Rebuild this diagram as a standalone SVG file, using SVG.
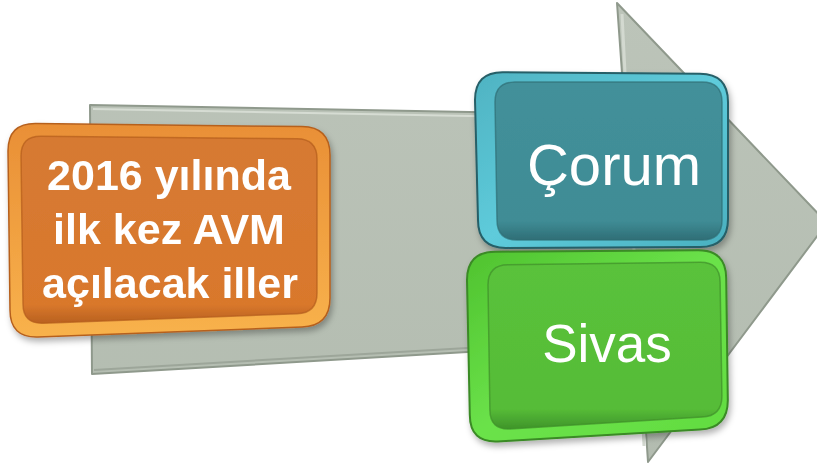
<svg xmlns="http://www.w3.org/2000/svg" width="817" height="463" viewBox="0 0 817 463">
<defs>
  <style>
    .lbl { fill: #ffffff; font-family: "Liberation Sans", Arial, sans-serif; text-anchor: middle; }
    .bold { font-weight: bold; font-size: 43px; }
    .big { font-size: 58px; }
  </style>
  <linearGradient id="arrowFill" x1="0" y1="0" x2="0" y2="1">
    <stop offset="0" stop-color="#bcc4b9"/>
    <stop offset="1" stop-color="#b3bcb0"/>
  </linearGradient>
  <linearGradient id="orRim" x1="0" y1="0" x2="0" y2="1">
    <stop offset="0" stop-color="#e98f36"/>
    <stop offset="1" stop-color="#f8b24c"/>
  </linearGradient>
  <linearGradient id="orFace" x1="0" y1="0" x2="0" y2="1">
    <stop offset="0" stop-color="#d67a33"/>
    <stop offset="0.9" stop-color="#d9782c"/>
    <stop offset="1" stop-color="#b9611f"/>
  </linearGradient>
  <linearGradient id="tlRim" x1="0" y1="0" x2="1" y2="1">
    <stop offset="0" stop-color="#4fb3c2"/>
    <stop offset="0.5" stop-color="#5ecbdb"/>
    <stop offset="1" stop-color="#4ab0bf"/>
  </linearGradient>
  <linearGradient id="tlFace" x1="0" y1="0" x2="0" y2="1">
    <stop offset="0" stop-color="#43909a"/>
    <stop offset="0.88" stop-color="#3f8c95"/>
    <stop offset="1" stop-color="#2f6e76"/>
  </linearGradient>
  <linearGradient id="grRim" x1="0" y1="0" x2="1" y2="1">
    <stop offset="0" stop-color="#4fc22f"/>
    <stop offset="0.5" stop-color="#6be24a"/>
    <stop offset="1" stop-color="#62dc40"/>
  </linearGradient>
  <linearGradient id="grFace" x1="0" y1="0" x2="0" y2="1">
    <stop offset="0" stop-color="#5ac23b"/>
    <stop offset="0.88" stop-color="#56bc37"/>
    <stop offset="1" stop-color="#3f942a"/>
  </linearGradient>
  <filter id="shadow" x="-10%" y="-10%" width="125%" height="130%">
    <feDropShadow dx="2" dy="4" stdDeviation="3" flood-color="#000000" flood-opacity="0.3"/>
  </filter>
</defs>

<g id="arrow-background">
  <polygon points="90,105 625,115 617,3 827,223 648,462 640,342 92,374" fill="url(#arrowFill)" stroke="#8f998c" stroke-width="2" stroke-linejoin="round"/>
  <polyline points="93,109 625,119" fill="none" stroke="#d6dcd3" stroke-width="2"/>
  <polyline points="622,14 644,446" fill="none" stroke="#d3d9d0" stroke-width="3"/>
  <polyline points="94,370 640,338" fill="none" stroke="#9da69a" stroke-width="2"/>
</g>

<g id="connectors"></g>

<g id="node-orange" filter="url(#shadow)">
  <path d="M 8,151 Q 8,123 36,123.4 L 302,126.6 Q 330,127 330,155 L 330,298 Q 330,326 302,327 L 38,337 Q 10,338 10,310 Z" fill="url(#orRim)" stroke="#b6601e" stroke-width="1.5"/>
  <path d="M 21,156 Q 21,136 41,136.2 L 297,138.8 Q 317,139 317,159 L 317,293 Q 317,313 297,313.8 L 43,323.2 Q 23,324 23,304 Z" fill="url(#orFace)" stroke="#b35d1c" stroke-width="1.5" stroke-opacity="0.7"/>
  <text class="lbl bold" x="169" y="190">2016 yılında</text>
  <text class="lbl bold" x="169" y="244">ilk kez AVM</text>
  <text class="lbl bold" x="170" y="298">açılacak iller</text>
</g>

<g id="node-corum" filter="url(#shadow)">
  <path d="M 475,100 Q 475,72 503,72.2 L 700,73.8 Q 728,74 728,102 L 728,219 Q 728,247 700,247.1 L 506,247.9 Q 478,248 478,220 Z" fill="url(#tlRim)" stroke="#265f67" stroke-width="2"/>
  <path d="M 495,102 Q 495,82 515,82 L 702,82 Q 722,82 722,102 L 722,220 Q 722,240 702,240 L 517,240 Q 497,240 497,220 Z" fill="url(#tlFace)" stroke="#2f6d75" stroke-width="1.5" stroke-opacity="0.7"/>
  <text class="lbl big" x="614" y="185">Çorum</text>
</g>

<g id="node-sivas" filter="url(#shadow)">
  <path d="M 467,280 Q 467,252 495,251.8 L 698,250.2 Q 726,250 726.2,278 L 727.8,400 Q 728,428 700,429.6 L 498,441.4 Q 470,443 469.8,415 Z" fill="url(#grRim)" stroke="#3a8a25" stroke-width="2"/>
  <path d="M 488,285 Q 488,265 508,264.8 L 700,262.2 Q 720,262 720.1,282 L 721.9,396 Q 722,416 702,417.1 L 510,428.9 Q 490,430 489.9,410 Z" fill="url(#grFace)" stroke="#3f8f2a" stroke-width="1.5" stroke-opacity="0.7"/>
  <text class="lbl" x="607" y="362" font-size="53">Sivas</text>
</g>
</svg>
